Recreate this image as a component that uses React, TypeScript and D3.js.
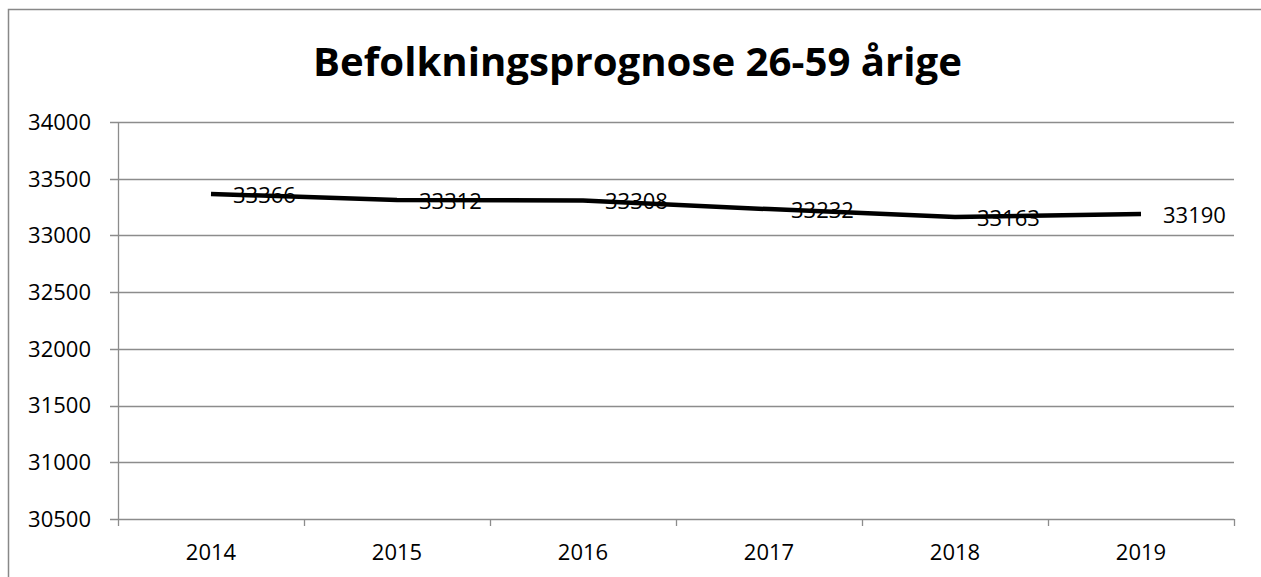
import * as d3 from "d3";

const years = ["2014", "2015", "2016", "2017", "2018", "2019"];
const population = [33366, 33312, 33308, 33232, 33163, 33190];
const yTicks = [30500, 31000, 31500, 32000, 32500, 33000, 33500, 34000];

const W = 1261;
const H = 577;
const left = 118;
const right = 1234;
const top = 122;
const bottom = 519;

const font = "'Open Sans', sans-serif";
const gridColor = "#8c8c8c";

const App = () => {
  const x = d3.scaleBand<string>().domain(years).range([left, right]);
  const y = d3.scaleLinear().domain([30500, 34000]).range([bottom, top]);

  const cx = (yr: string) => (x(yr) ?? 0) + x.bandwidth() / 2;

  const line = d3
    .line<number>()
    .x((_, i) => cx(years[i]))
    .y((d) => y(d));

  const edges = [...years.map((yr) => x(yr) ?? 0), right];

  return (
    <svg
      width={W}
      height={H}
      style={{ position: "absolute", left: 0, top: 0, background: "#fff" }}
      fontFamily={font}
    >
      {/* outer chart border, runs off the right and bottom */}
      <rect x={8.5} y={9.5} width={W + 20} height={H + 20} fill="#fff" stroke="#888" strokeWidth={1.5} />

      <text
        x={313}
        y={76}
        fontSize={40}
        fontWeight={700}
        textLength={649}
        lengthAdjust="spacingAndGlyphs"
      >
        Befolkningsprognose 26-59 årige
      </text>

      {/* gridlines + y ticks */}
      {yTicks.map((t) => (
        <g key={t}>
          <line x1={left - 8} x2={right} y1={Math.round(y(t)) + 0.5} y2={Math.round(y(t)) + 0.5} stroke={gridColor} strokeWidth={1.3} />
          <text x={91} y={y(t)} dy="0.36em" textAnchor="end" fontSize={22} fill="#000">
            {t}
          </text>
        </g>
      ))}

      {/* y axis */}
      <line x1={left + 0.5} x2={left + 0.5} y1={top} y2={bottom} stroke={gridColor} strokeWidth={1.3} />

      {/* x ticks */}
      {edges.map((ex, i) => (
        <line key={i} x1={ex + 0.5} x2={ex + 0.5} y1={bottom} y2={bottom + 7} stroke={gridColor} strokeWidth={1.3} />
      ))}
      {years.map((yr) => (
        <text key={yr} x={cx(yr)} y={560} textAnchor="middle" fontSize={22} fill="#000">
          {yr}
        </text>
      ))}

      <path d={line(population) ?? ""} fill="none" stroke="#000" strokeWidth={4.5} strokeLinejoin="round" />

      {population.map((v, i) => (
        <text key={i} x={cx(years[i]) + 22} y={y(v) + 9} fontSize={22} fill="#000">
          {v}
        </text>
      ))}
    </svg>
  );
};

export default App;
